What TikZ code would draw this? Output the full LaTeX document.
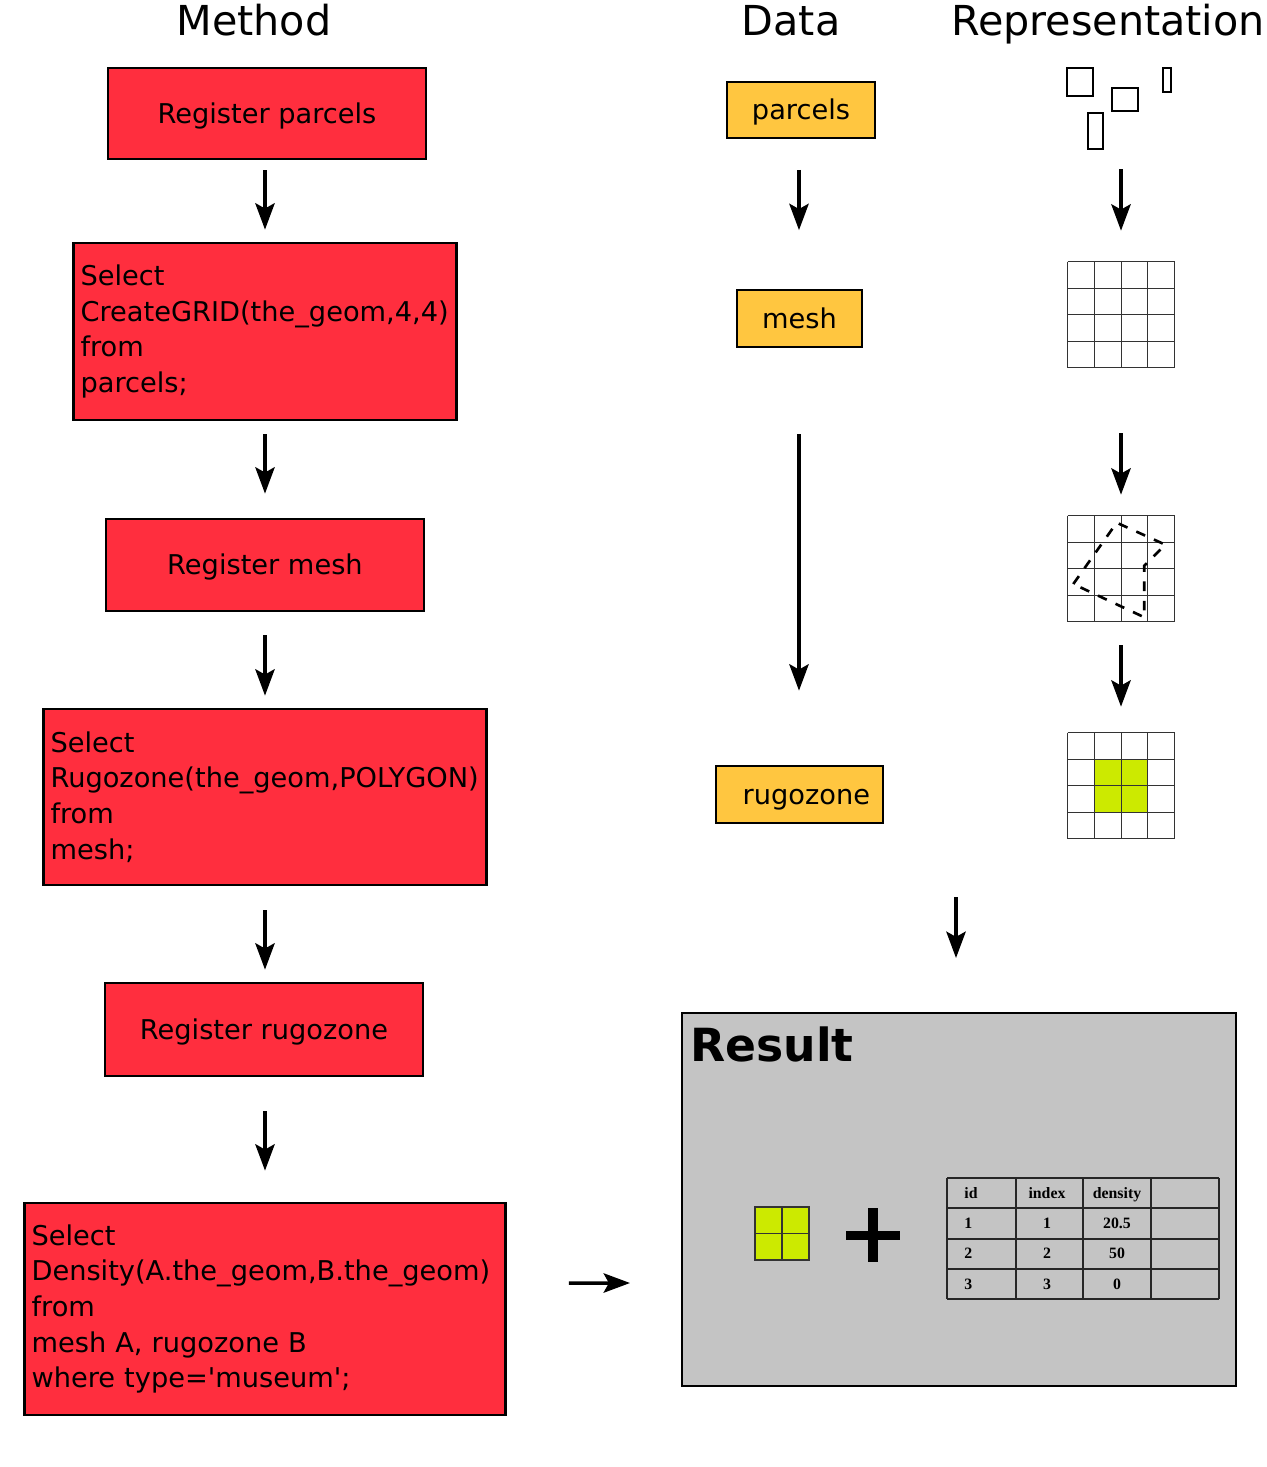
\documentclass[tikz,border=0pt]{standalone}
\usepackage{fontspec}
\setmainfont{DejaVu Sans}
\newfontfamily\tabfont{Liberation Serif}
\usepackage{tikz}
\usetikzlibrary{positioning, arrows.meta}
\usepackage{xcolor}

\definecolor{boxred}{RGB}{255,46,62}
\definecolor{boxorange}{RGB}{255,198,64}
\definecolor{resgray}{RGB}{196,196,196}
\definecolor{cellgreen}{RGB}{204,234,0}

\tikzset{
	redbox/.style={draw=black, fill=boxred, line width=1.6pt, minimum width=6.36cm, inner xsep=4pt, font=\fontsize{15.5}{20.3}\selectfont},
	linebox/.style={redbox, text height=13pt, text depth=2pt},
	codebox/.style={redbox, align=left, minimum width=0pt},
	databox/.style={draw=black, fill=boxorange, line width=1pt, minimum height=1.14cm, text height=13pt, text depth=2pt, font=\fontsize{15.5}{20.3}\selectfont},
	title/.style={font=\fontsize{23.5}{28}\selectfont, anchor=base},
	arr/.style={line width=2pt, -{Stealth[length=15pt, width=11pt, inset=3pt]}},
	gridline/.style={draw=black!80, line width=0.6pt},
	gridbox/.style={minimum width=2.14cm, minimum height=2.12cm, inner sep=0pt},
	shapeline/.style={draw=black, line width=1pt},
	cell/.style={font=\tabfont\bfseries\fontsize{9}{10}\selectfont, inner sep=0pt, anchor=base},
}

\begin{document}
\begin{tikzpicture}[x=0.02cm, y=-0.02cm]
			\useasboundingbox (0,0) rectangle (1267,1467);
			% titles
			\node[title] (method) at (254,35) {Method};
			\node[title] (data) at (791,35) {Data};
			\node[title] (repr) at (1108,35) {Representation};
			% method column
			\node[linebox, minimum height=1.82cm] (regparcels) at (267,113.5) {Register parcels};
			\node[codebox, text width=7.38cm, minimum height=3.54cm] (creategrid) at (265,331.5)
				{Select\\CreateGRID(the\_geom,4,4)\\from\\parcels;};
			\node[linebox, minimum height=1.84cm] (regmesh) at (265,565) {Register mesh};
			\node[codebox, text width=8.58cm, minimum height=3.52cm] (rugo) at (265,797)
				{Select\\Rugozone(the\_geom,POLYGON)\\from\\mesh;};
			\node[linebox, minimum height=1.86cm] (regrugo) at (264,1029.5) {Register rugozone};
			\node[codebox, text width=9.34cm, minimum height=4.24cm] (density) at (265,1309)
				{Select\\Density(A.the\_geom,B.the\_geom)\\from\\mesh A, rugozone B\\where type=\textquotesingle museum\textquotesingle;};
			\draw[arr] ([shift={(-2,10)}]regparcels.south) -- ([shift={(0,-12)}]creategrid.north);
			\draw[arr] ([shift={(0,13)}]creategrid.south) -- ([shift={(0,-24)}]regmesh.north);
			\draw[arr] ([shift={(0,23)}]regmesh.south) -- ([shift={(0,-12)}]rugo.north);
			\draw[arr] ([shift={(0,24)}]rugo.south) -- ([shift={(1,-12)}]regrugo.north);
			\draw[arr] ([shift={(1,34)}]regrugo.south) -- ([shift={(0,-31)}]density.north);
			% data column
			\node[databox, minimum width=2.96cm, minimum height=1.12cm] (parcels) at (801,110) {parcels};
			\node[databox, minimum width=2.5cm] (mesh) at (799.5,318.5) {mesh};
			\node[databox, minimum width=3.34cm, text width=2.82cm, align=right] (rugozone) at (799.5,794.5) {rugozone};
			\draw[arr] ([shift={(-2,31)}]parcels.south) -- ([shift={(-0.5,-59)}]mesh.north);
			\draw[arr] ([shift={(-0.5,86.5)}]mesh.south) -- ([shift={(-0.5,-74.5)}]rugozone.north);
			% representation column
			\draw[shapeline] (1067,68) rectangle (1093,96);
			\draw[shapeline] (1112,88) rectangle (1138,111);
			\draw[shapeline] (1163,68) rectangle (1171,92);
			\draw[shapeline] (1088,113) rectangle (1103,149);
			\coordinate (shapes) at (1121,149);
			\node[gridbox] (gridA) at (1121.5,315) {};
			\node[gridbox] (gridB) at (1121.5,569) {};
			\node[gridbox] (gridC) at (1121.5,786) {};
			\begin{scope}[shift={(gridC.north west)}]
				\fill[cellgreen] (26.75,26.5) rectangle (80.25,79.5);
			\end{scope}
			\foreach \g in {gridA, gridB, gridC} {
				\begin{scope}[shift={(\g.north west)}]
					\foreach \i in {0,...,4} {
						\draw[gridline] (\i*26.75,0) -- (\i*26.75,106);
						\draw[gridline] (0,\i*26.5) -- (107,\i*26.5);
					}
				\end{scope}
			}
			% zone outline
			\draw[line width=1.5pt, dash pattern=on 5.5pt off 5.5pt] (1073.3,584) -- (1116.7,522.7)
				-- (1165.3,544.7) -- (1144.3,565.7) -- (1144.3,617.3) -- cycle;
			\draw[arr] ([shift={(0,20)}]shapes) -- ([shift={(-0.5,-31)}]gridA.north);
			\draw[arr] ([shift={(-0.5,65)}]gridA.south) -- ([shift={(-0.5,-21)}]gridB.north);
			\draw[arr] ([shift={(-0.5,23)}]gridB.south) -- ([shift={(-0.5,-26)}]gridC.north);
			% result
			\node[draw=black, fill=resgray, line width=1.2pt, minimum width=11.08cm, minimum height=7.46cm] (result) at (959,1199.5) {};
			\node[anchor=base west, font=\bfseries\fontsize{26}{30}\selectfont, inner sep=0pt] (restitle) at (690,1061) {Result};
			\coordinate (resin) at (956,897);
			\draw[arr] (resin) -- ([shift={(-3,-54)}]result.north);
			\draw[arr] ([shift={(62,-26)}]density.east) -- ([shift={(-51,83.5)}]result.west);
			\filldraw[fill=cellgreen, draw=black!80, line width=0.6pt] (755,1207) rectangle (809,1260);
			\draw[gridline] (782,1207) -- (782,1260);
			\draw[gridline] (755,1233.5) -- (809,1233.5);
			% plus
			\draw[line width=5.4pt] (873,1208) -- (873,1262);
			\draw[line width=5.4pt] (846,1235.5) -- (900,1235.5);
			% table
			\foreach \x in {947,1016,1083,1151,1219}
				\draw[draw=black!85, line width=0.7pt] (\x,1178) -- (\x,1299);
			\foreach \y in {1178,1208,1239,1269,1299}
				\draw[draw=black!85, line width=0.7pt] (947,\y) -- (1219,\y);
			\foreach \y/\a/\b/\c [count=\r] in {1198/id/index/density, 1228/1/1/20.5, 1258.5/2/2/50, 1289/3/3/0} {
				\node[cell, anchor=base west] (t\r a) at (964,\y) {\a};
				\node[cell] (t\r b) at (1047,\y) {\b};
				\node[cell] (t\r c) at (1117,\y) {\c};
			}
\end{tikzpicture}
\end{document}
